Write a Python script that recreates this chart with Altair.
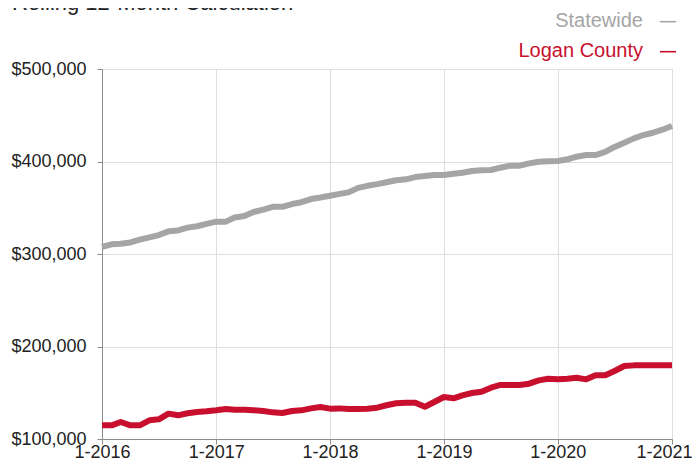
import altair as alt
import pandas as pd

FONT = "Liberation Sans"

months = [f"{y}-{m:02d}-01" for y in range(2016, 2021) for m in range(1, 13)] + ["2021-01-01"]

statewide = [
    307.6, 310.5, 311.0, 312.5, 315.5, 318.0, 320.5, 324.5, 325.5, 328.5, 330.0, 332.5,
    335.0, 335.0, 339.5, 341.0, 345.4, 348.0, 351.0, 351.0, 354.0, 356.0, 359.4, 361.0,
    362.9, 365.0, 366.6, 371.5, 373.7, 375.5, 377.5, 379.7, 380.7, 383.2, 384.3, 385.4,
    385.4, 386.8, 387.9, 389.7, 390.5, 390.8, 393.3, 395.5, 395.5, 398.0, 399.8, 400.2,
    400.5, 402.4, 405.2, 407.0, 407.0, 410.3, 415.7, 420.3, 425.0, 428.6, 431.1, 434.4,
    438.4,
]
logan = [
    114.8, 114.8, 118.4, 114.8, 114.8, 120.2, 121.3, 127.4, 125.6, 127.8, 129.2, 129.9,
    131.0, 132.4, 131.7, 131.7, 131.0, 130.3, 128.8, 128.1, 130.3, 131.0, 133.1, 134.6,
    132.8, 133.1, 132.4, 132.4, 132.8, 133.9, 136.5, 138.6, 139.3, 139.3, 134.9, 140.0,
    145.4, 144.0, 147.2, 149.7, 151.1, 155.5, 158.4, 158.4, 158.4, 159.8, 163.4, 165.2,
    164.5, 165.2, 166.3, 164.5, 168.9, 168.9, 173.5, 178.9, 179.6, 179.6, 179.6, 179.6,
    179.6,
]
series_names = ["Statewide", "Logan County"]
series_colors = ["#a5a5a5", "#c8102e"]
title_text = "Rolling 12-Month Calculation"
tick_years = [2016, 2017, 2018, 2019, 2020, 2021]

df = pd.concat([
    pd.DataFrame({"date": months, "value": [v * 1000 for v in statewide], "series": series_names[0]}),
    pd.DataFrame({"date": months, "value": [v * 1000 for v in logan], "series": series_names[1]}),
])

last_test = f"utcyear(datum.value) == {tick_years[-1]}"

x_enc = alt.X(
    "date:T",
    scale=alt.Scale(type="utc", domain=[alt.DateTime(year=2016, month=1, date=1, utc=True),
                                        alt.DateTime(year=2021, month=1, date=1, utc=True)]),
    axis=alt.Axis(
        values=[alt.DateTime(year=y, month=1, date=1, utc=True) for y in tick_years],
        labelExpr="'1-' + utcFormat(datum.value, '%Y')",
        title=None, grid=True, tickSize=5, labelPadding=13,
        labelBaseline="alphabetic", labelFlush=False,
        labelAlign={"condition": {"test": last_test, "value": "right"}, "value": "center"},
        labelOffset={"condition": {"test": last_test, "value": 20}, "value": 0},
    ),
)
y_enc = alt.Y(
    "value:Q",
    scale=alt.Scale(domain=[100000, 500000], nice=False, zero=False),
    axis=alt.Axis(values=[100000, 200000, 300000, 400000, 500000], format="$,.0f",
                  title=None, grid=True, tickSize=5, labelPadding=11),
)

lines = alt.Chart(df).mark_line(strokeWidth=6, strokeJoin="round", strokeCap="butt").encode(
    x=x_enc, y=y_enc,
    color=alt.Color("series:N", scale=alt.Scale(domain=series_names, range=series_colors), legend=None),
)

title = alt.Chart(pd.DataFrame({"t": [title_text]})).mark_text(
    align="left", baseline="alphabetic", font=FONT, fontSize=22, color="#222222"
).encode(x=alt.value(-90), y=alt.value(-59), text="t:N")

legend_layers = []
for i, name in enumerate(series_names):
    d = pd.DataFrame({"label": [name]})
    legend_layers.append(
        alt.Chart(d).mark_text(align="right", baseline="alphabetic", font=FONT, fontSize=20,
                               color=series_colors[i]).encode(
            x=alt.value(541), y=alt.value(-42.3 + 30.6 * i), text="label:N")
    )
    legend_layers.append(
        alt.Chart(d).mark_rule(strokeWidth=1.6, color=series_colors[i]).encode(
            x=alt.value(558), x2=alt.value(574), y=alt.value(-47.3 + 30 * i))
    )

chart = alt.layer(lines, title, *legend_layers).properties(
    width=570, height=370,
    autosize=alt.AutoSizeParams(type="none"),
    padding={"left": 94, "top": 61, "right": 20, "bottom": 21},
).configure_view(
    stroke="#8c8c8c", strokeWidth=1
).configure_axis(
    labelFont=FONT, labelFontSize=18, labelColor="#222222",
    domainColor="#8c8c8c", tickColor="#8c8c8c", gridColor="#dedede",
    domainWidth=1, gridWidth=1,
)

chart.save("out.html", embed_options={"renderer": "svg", "actions": False})
